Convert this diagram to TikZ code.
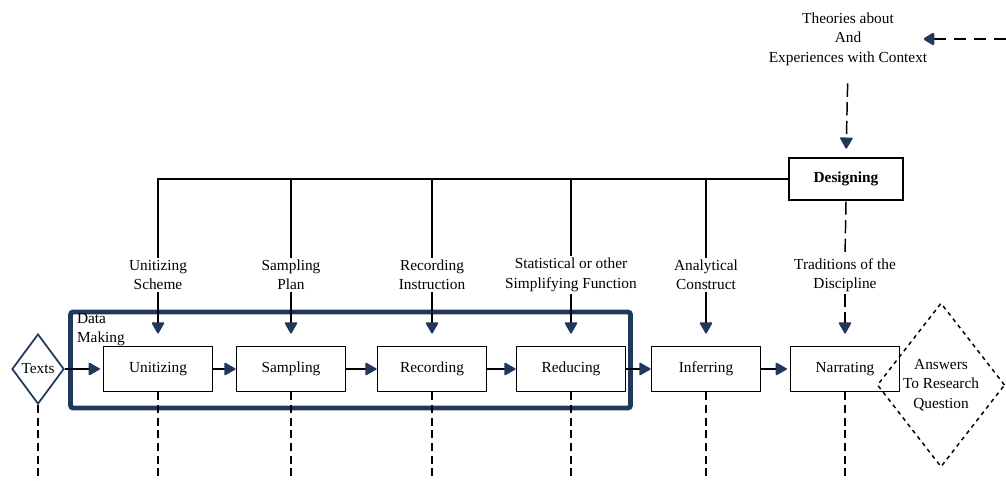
\documentclass[tikz,border=0pt]{standalone}
\usepackage{fontspec}
\setmainfont{Liberation Serif}
\usetikzlibrary{positioning, arrows.meta, shapes.geometric}
\definecolor{framenavy}{RGB}{31,56,92}

\begin{document}
\begin{tikzpicture}[
  x=0.75pt, y=-0.75pt,
  font=\fontsize{11.5}{14.6}\selectfont,
  st/.style={draw, line width=1.4pt, minimum width=81.75pt, minimum height=33.75pt, inner sep=0pt},
  lbl/.style={align=center, inner sep=1pt},
  tip/.style={-{Triangle[length=9pt, width=10pt, round, color=framenavy, fill=framenavy]}},
  dsh/.style={dash pattern=on 10pt off 4pt},
  bot/.style={dash pattern=on 6pt off 3.5pt},
  line width=1.1pt,
]
\useasboundingbox (0,0) rectangle (1006,481);
% data making frame
\node[draw=framenavy, line width=3.6pt, rounded corners=2pt, minimum width=420pt, minimum height=72pt] (frame) at (350.5,360) {};
\node[lbl, align=left, anchor=north west] (dm) at (75,311) {Data\\Making};
% chain
\node[diamond, draw=framenavy, line width=1.3pt, aspect=0.75, minimum width=39pt, minimum height=52.5pt, inner sep=0pt] (texts) at (38,369) {Texts};
\node[st] (unit) at (158,369) {Unitizing};
\node[st] (samp) at (291,369) {Sampling};
\node[st] (rec) at (432,369) {Recording};
\node[st] (red) at (571,369) {Reducing};
\node[st] (inf) at (706,369) {Inferring};
\node[st] (nar) at (845,369) {Narrating};
\node[diamond, draw, dashed, line width=1.1pt, minimum width=95pt, minimum height=123pt, inner sep=0pt, align=center] (ans) at (941,385) {Answers\\To Research\\Question};
% design
\node[st, minimum width=86pt, minimum height=32pt, font=\fontsize{11.5}{14.6}\selectfont\bfseries] (des) at (846,179) {Designing};
\node[lbl] (theo) at (848,39) {Theories about\\And\\Experiences with Context};
\coordinate (src) at (1006,39);
% labels
\node[lbl] (lU) at (158,275) {Unitizing\\Scheme};
\node[lbl] (lS) at (291,275) {Sampling\\Plan};
\node[lbl] (lR) at (432,275) {Recording\\Instruction};
\node[lbl] (lF) at (571,275) {Statistical or other\\Simplifying Function};
\node[lbl] (lA) at (706,275) {Analytical\\Construct};
\node[lbl] (lT) at (845,275) {Traditions of the\\Discipline};
% flow
\draw[tip, shorten >=2pt] (texts.east) -- (unit.west);
\draw[tip] (unit) -- (samp);
\draw[tip] (samp) -- (rec);
\draw[tip] (rec) -- (red);
\draw[tip] (red) -- (inf);
\draw[tip, shorten >=2pt] (inf) -- (nar);
% from designing
\draw (des.west) -| (lU.north);
\foreach \l in {lS, lR, lF, lA}
  \draw (des.west -| \l.north) -- (\l.north);
\foreach \l/\b in {lU/unit, lS/samp, lR/rec, lF/red, lA/inf}
  \draw[tip, shorten >=9pt] (\l.south) -- (\b.north);
\draw[dsh] (des.south) -- (lT.north);
\draw[dsh, tip, shorten >=9pt] (lT.south) -- (nar.north);
\draw[dsh, tip, shorten <=12pt, shorten >=6pt] (theo.south) -- (des.north);
\draw[line width=2.2pt, dash pattern=on 9pt off 6pt, tip, shorten >=-4pt] (src) -- (theo.east);
% downward
\draw[bot] (texts.south) -- (texts.south |- 0,481);
\foreach \b in {unit, samp, rec, red, inf, nar}
  \draw[bot] (\b.south) -- (\b.south |- 0,481);
\end{tikzpicture}
\end{document}
